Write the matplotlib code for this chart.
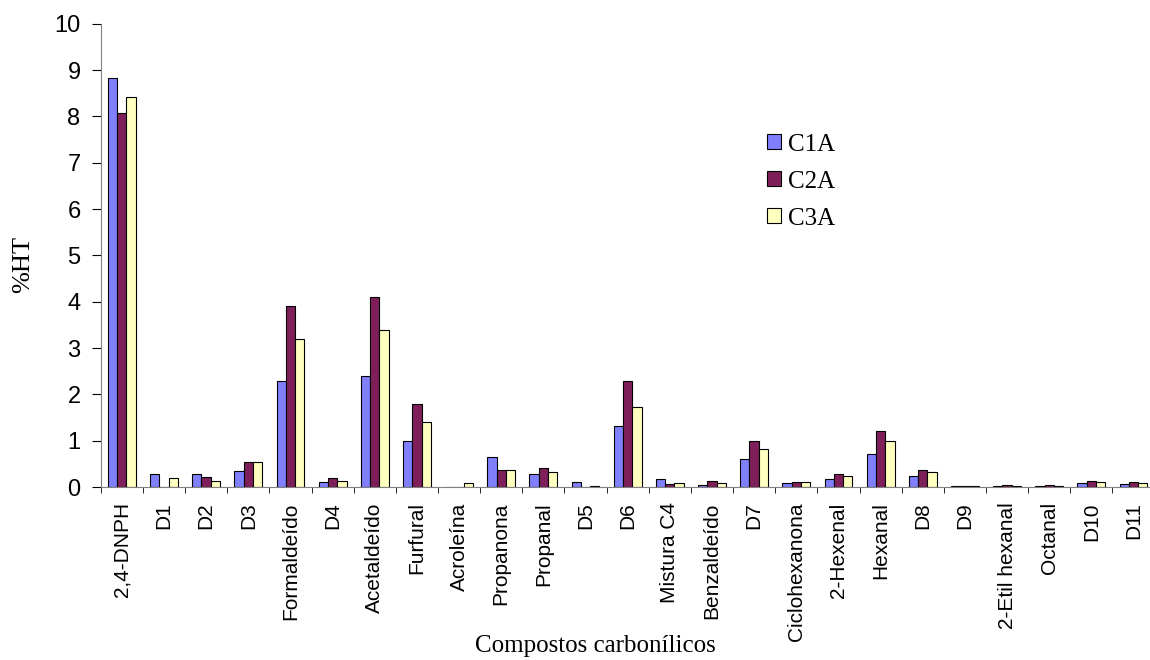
import numpy as np
import matplotlib.pyplot as plt

# categories and values
compostos = ["2,4-DNPH", "D1", "D2", "D3", "Formaldeído", "D4", "Acetaldeído",
             "Furfural", "Acroleína", "Propanona", "Propanal", "D5", "D6",
             "Mistura C4", "Benzaldeído", "D7", "Ciclohexanona", "2-Hexenal",
             "Hexanal", "D8", "D9", "2-Etil hexanal", "Octanal", "D10", "D11"]
c1a = [8.82, 0.29, 0.29, 0.34, 2.30, 0.12, 2.40, 1.00, 0.00, 0.65, 0.29, 0.11, 1.31,
       0.17, 0.05, 0.60, 0.08, 0.17, 0.72, 0.23, 0.02, 0.02, 0.02, 0.09, 0.06]
c2a = [8.08, 0.00, 0.22, 0.54, 3.90, 0.20, 4.10, 1.80, 0.00, 0.37, 0.42, 0.00, 2.30,
       0.06, 0.14, 0.99, 0.11, 0.29, 1.20, 0.37, 0.02, 0.05, 0.05, 0.14, 0.11]
c3a = [8.43, 0.20, 0.14, 0.54, 3.20, 0.14, 3.40, 1.40, 0.09, 0.37, 0.32, 0.02, 1.72,
       0.09, 0.08, 0.82, 0.11, 0.23, 1.00, 0.32, 0.02, 0.02, 0.02, 0.11, 0.08]
series = ["C1A", "C2A", "C3A"]
cores = ["#8080FF", "#7F1F5A", "#FFFFC0"]

fig, ax = plt.subplots(figsize=(11.5, 6.6), dpi=100)
# the original chart is slightly cropped on the right
fig.subplots_adjust(left=0.0876, right=1.004, top=0.964, bottom=0.262)

x = np.arange(len(compostos))
w = 0.22
for i, (vals, nome, cor) in enumerate(zip([c1a, c2a, c3a], series, cores)):
    ax.bar(x + (i - 1) * w, vals, w, color=cor, edgecolor="black",
           linewidth=0.8, label=nome)

ax.set_xlim(-0.5, len(compostos) - 0.5)
ax.set_ylim(0, 10)
ax.set_yticks(range(0, 11))
ax.tick_params(axis="y", labelsize=17, length=6.5, pad=8)
for lab in ax.get_yticklabels():
    lab.set_family("Liberation Sans")

# category labels in the middle, ticks between categories
ax.set_xticks(x)
ax.set_xticklabels(compostos, rotation=90, fontsize=15, family="Liberation Sans")
ax.tick_params(axis="x", which="major", length=0, pad=11)
ax.set_xticks(np.arange(-0.5, len(compostos)), minor=True)
ax.tick_params(axis="x", which="minor", length=4.5)

for s in ["top", "right"]:
    ax.spines[s].set_visible(False)
for s in ["left", "bottom"]:
    ax.spines[s].set_color("#808080")

ax.set_ylabel("%HT", fontsize=19, family="Liberation Serif")
ax.yaxis.set_label_coords(-0.063, 0.48)
ax.set_xlabel("Compostos carbonílicos", fontsize=18, family="Liberation Serif")
ax.xaxis.set_label_coords(0.469, -0.32)

ax.legend(loc="upper left", bbox_to_anchor=(0.620, 0.79), frameon=False,
          prop={"family": "Liberation Serif", "size": 18}, borderpad=0,
          handlelength=0.56, handleheight=0.56, handletextpad=0.3, labelspacing=0.6)

fig.savefig("out.png")
